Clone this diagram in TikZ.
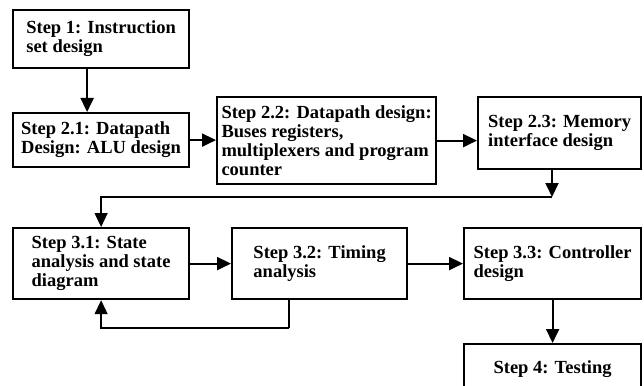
\documentclass[tikz,border=0pt]{standalone}
\usepackage{fontspec}
\setmainfont{Liberation Serif}
\usetikzlibrary{arrows.meta}

\tikzstyle{stepbox}=[draw=black,line width=2.2pt,anchor=north west,align=left,inner sep=0pt,font=\fontsize{18.5}{19}\selectfont\bfseries]
\tikzstyle{flow}=[draw=black,line width=2pt,-{Triangle[length=14pt,width=13pt]}]
\tikzstyle{backline}=[draw=black,line width=1.4pt]

\begin{document}
\begin{tikzpicture}[x=1pt,y=-1pt]
\useasboundingbox (0,0) rectangle (644,385);

   \node[stepbox,minimum width=176pt,minimum height=58pt] (s1) at (12,9) {Step 1: Instruction\\set design};
   \node[stepbox,minimum width=176pt,minimum height=54pt] (s21) at (12,112) {Step 2.1: Datapath\\Design: ALU design};
   \node[stepbox,minimum width=219pt,minimum height=87pt] (s22) at (216,96) {Step 2.2: Datapath design:\\Buses registers,\\multiplexers and program\\counter};
   \node[stepbox,minimum width=163pt,minimum height=72pt] (s23) at (477,96) {Step 2.3: Memory\\interface design};

   \node[stepbox,minimum width=176pt,minimum height=71pt] (s31) at (12,227) {Step 3.1: State\\analysis and state\\diagram};
   \node[stepbox,minimum width=175pt,minimum height=71pt] (s32) at (231,227) {Step 3.2: Timing\\analysis};
   \node[stepbox,minimum width=177pt,minimum height=71pt] (s33) at (463,227) {Step 3.3: Controller\\design};
   \node[stepbox,minimum width=177pt,minimum height=50pt] (s4) at (463,343) {Step 4: Testing};

   \coordinate (turn) at (552,197);
   \coordinate (back) at (289,328);

   \draw[flow] ([xshift=-14pt]s1.south) -- ([xshift=-14pt]s21.north);
   \draw[flow] (s21.east) -- (s21.east -| s22.west);
   \draw[flow] (s22.east) -- (s22.east -| s23.west);
   \draw[flow] (s23.south -| turn) -- (turn);
   \draw[flow,line width=1.4pt] (turn) -| (s31.north);

   \draw[flow] (s31.east) -- (s32.west);
   \draw[flow] (s32.east) -- (s33.west);
   \draw[flow] (s33.south) -- (s4.north);
   \draw[backline] (s32.south -| back) -- (back);
   \draw[flow,line width=1.4pt] (back) -| (s31.south);
\end{tikzpicture}
\end{document}
